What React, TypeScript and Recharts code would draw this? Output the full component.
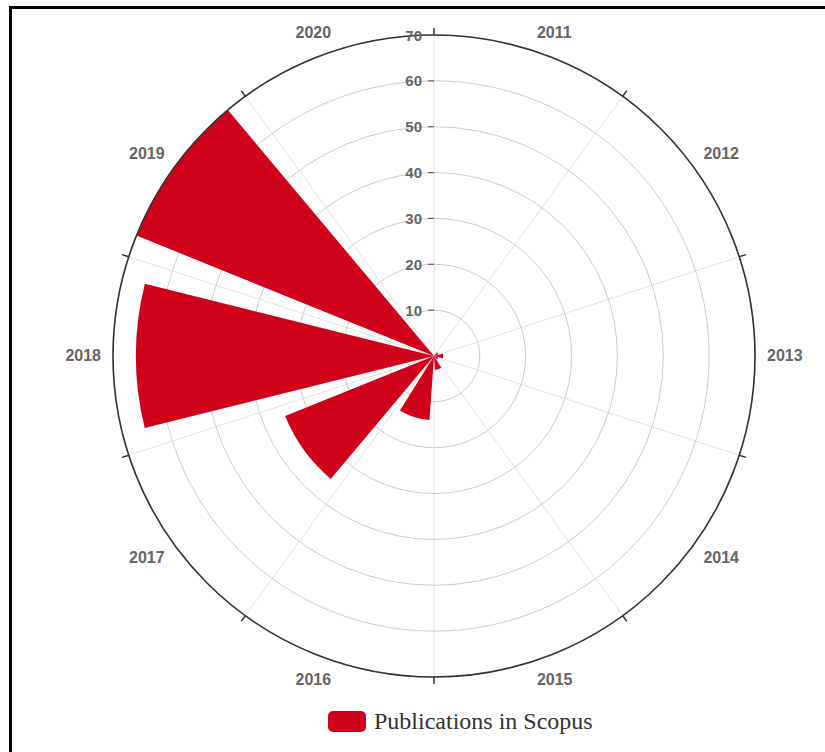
import React from 'react';
import {
  RadialBarChart,
  RadialBar,
  PolarAngleAxis,
  PolarRadiusAxis,
  PolarGrid,
  Legend,
} from 'recharts';

// Yearly publication counts
const years = ['2011', '2012', '2013', '2014', '2015', '2016', '2017', '2018', '2019', '2020'];
const publications = [0, 1, 2, 1, 3, 14, 35, 65, 70, 0];
const radiusMax = 70;
const radiusTickCount = 8;
const seriesName = 'Publications in Scopus';

const data = years.map((year, i) => ({ year, value: publications[i] }));

// Layout
const W = 825;
const H = 752;
const CX = 434;
const CY = 356;
const R = 321;
const RED = '#d0021b';
const LABEL = '#666666';
const STEP = 360 / years.length;
const RAD = Math.PI / 180;
// The centric bar sectors are laid out half a band counter-clockwise of the axis tick
// angle, so the axis is started one band early: the first sector then spans from
// 12 o'clock to one band clockwise of it, and the labels are moved onto the sector centres.
const START = 90 - STEP;
// radial grid lines sit on the boundaries between year sectors
const boundaryAngles = years.map((_, i) => 90 - i * STEP);

const polar = (r: number, angle: number) => ({
  x: CX + r * Math.cos(-angle * RAD),
  y: CY + r * Math.sin(-angle * RAD),
});

function AngleTick(props: any) {
  const { payload } = props;
  const angle: number = payload.coordinate + STEP / 2;
  const edge = angle + STEP / 2;
  const t1 = polar(R, edge);
  const t2 = polar(R + 7, edge);
  const p = polar(R + 12, angle);
  const c = Math.cos(angle * RAD);
  const s = Math.sin(angle * RAD);
  const anchor = c > 0.05 ? 'start' : c < -0.05 ? 'end' : 'middle';
  const dy = s > 0.1 ? -7 : s < -0.1 ? 3 + 4 * -s : -1;
  return (
    <g>
      <line x1={t1.x} y1={t1.y} x2={t2.x} y2={t2.y} stroke="#333333" strokeWidth={1.5} />
      <text
        x={p.x}
        y={p.y + dy}
        textAnchor={anchor}
        dominantBaseline="central"
        fill={LABEL}
        fontFamily="'Liberation Sans', Arial, sans-serif"
        fontWeight="bold"
        fontSize={16}
      >
        {payload.value}
      </text>
    </g>
  );
}

function RadiusTick(props: any) {
  const { x, y, payload } = props;
  if (!payload || payload.value === 0) return <g />;
  return (
    <g>
      <line x1={x - 6} y1={y} x2={x} y2={y} stroke={LABEL} strokeWidth={1.2} />
      <text
        x={x - 12}
        y={y}
        textAnchor="end"
        dominantBaseline="central"
        fill={LABEL}
        fontFamily="'Liberation Sans', Arial, sans-serif"
        fontWeight="bold"
        fontSize={15}
      >
        {payload.value}
      </text>
    </g>
  );
}

function LegendContent() {
  return (
    <div style={{ display: 'flex', alignItems: 'center', whiteSpace: 'nowrap' }}>
      <span
        style={{
          display: 'inline-block',
          width: 38,
          height: 21,
          background: RED,
          borderRadius: 5,
        }}
      />
      <span
        style={{
          marginLeft: 8,
          fontFamily: "'Liberation Serif', 'Times New Roman', serif",
          fontSize: 24,
          color: '#333333',
        }}
      >
        {seriesName}
      </span>
    </div>
  );
}

export default function App() {
  return (
    <div
      style={{
        position: 'absolute',
        left: 0,
        top: 0,
        width: W,
        height: H,
        overflow: 'hidden',
        background: '#ffffff',
      }}
    >
      <div
        style={{
          position: 'absolute',
          left: 9,
          top: 6,
          width: W,
          height: H,
          borderTop: '3px solid #000',
          borderLeft: '3px solid #000',
        }}
      />
      <div style={{ position: 'absolute', left: 0, top: 0 }}>
        <RadialBarChart
          width={W}
          height={H}
          data={data}
          layout="centric"
          cx={CX}
          cy={CY}
          innerRadius={0}
          outerRadius={R}
          startAngle={START}
          endAngle={START - 360}
          barCategoryGap="11%"
          margin={{ top: 0, right: 0, bottom: 0, left: 0 }}
        >
          <PolarGrid gridType="circle" polarAngles={boundaryAngles} polarRadius={[]} stroke="#e2e2e2" />
          <PolarGrid gridType="circle" radialLines={false} stroke="#cccccc" />
          <PolarAngleAxis
            dataKey="year"
            type="category"
            axisLineType="circle"
            stroke="#333333"
            axisLine={{ stroke: '#333333', strokeWidth: 1.6 }}
            tickLine={false}
            tick={AngleTick}
          />
          <PolarRadiusAxis
            type="number"
            angle={90}
            domain={[0, radiusMax]}
            tickCount={radiusTickCount}
            axisLine={false}
            tick={RadiusTick}
          />
          <RadialBar dataKey="value" name={seriesName} fill={RED} isAnimationActive={false} />
          <Legend content={LegendContent} wrapperStyle={{ left: 328, top: 708, width: 'auto' }} />
        </RadialBarChart>
      </div>
    </div>
  );
}
